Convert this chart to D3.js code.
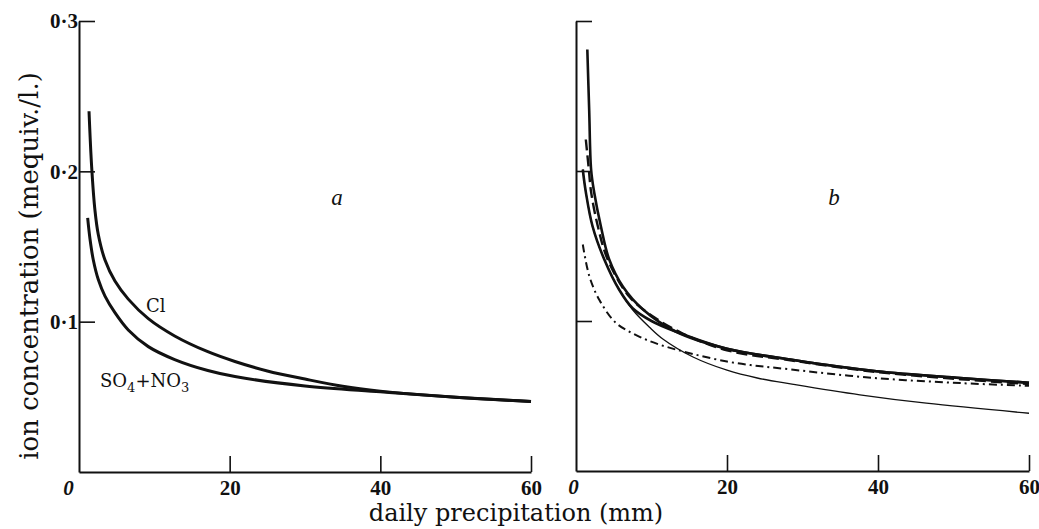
<!DOCTYPE html>
<html><head><meta charset="utf-8">
<script src="https://cdn.jsdelivr.net/npm/d3@7"></script>
<style>body{margin:0;background:#fff}svg{display:block}</style>
</head><body><svg id="c" width="1039" height="529"></svg>
<script>
// ---- data ----
const xTicks = [0, 20, 40, 60];
const yTicks = [0.1, 0.2, 0.3];
const yTickLabels = ["0·1", "0·2", "0·3"];

// panel a
const clMM   = [1.33, 1.68, 2.12, 2.56, 3.45, 4.77, 6.54, 9.2, 12.7, 17.1, 20.7, 25, 30, 35, 40, 50, 60];
const clConc = [0.240, 0.203, 0.174, 0.158, 0.141, 0.127, 0.115, 0.102, 0.0905, 0.080, 0.0735, 0.0672, 0.0618, 0.0570, 0.0538, 0.0497, 0.0469];
const so4MM   = [1.15, 1.46, 1.90, 2.56, 3.45, 4.77, 6.54, 9.2, 12.7, 17.1, 20.7, 30, 40, 50, 60];
const so4Conc = [0.169, 0.155, 0.141, 0.128, 0.117, 0.106, 0.0945, 0.0834, 0.0748, 0.0675, 0.0635, 0.0572, 0.0533, 0.0497, 0.0469];

// panel b
const bThickAMM   = [1.5, 1.75, 2.0, 2.4, 3.3, 4.4, 6.2, 8.8, 13.2, 20, 28.8, 39.8, 50.9, 60];
const bThickAConc = [0.281, 0.24, 0.201, 0.186, 0.163, 0.141, 0.123, 0.108, 0.093, 0.0815, 0.074, 0.0665, 0.062, 0.0588];
const bThickCMM   = [0.9, 1.3, 2.2, 3.75, 5.7, 7.5, 10, 13.2, 20, 28.8, 39.8, 50.9, 60];
const bThickCConc = [0.201, 0.186, 0.163, 0.141, 0.121, 0.1085, 0.100, 0.093, 0.0815, 0.074, 0.0665, 0.062, 0.0588];
const bThinMM   = [0.9, 1.3, 2.2, 3.75, 5.7, 7.5, 9.7, 11.5, 15.5, 20, 24, 28.8, 37.6, 46.4, 60];
const bThinConc = [0.201, 0.186, 0.163, 0.141, 0.121, 0.1075, 0.096, 0.088, 0.076, 0.0672, 0.0620, 0.0578, 0.0508, 0.0452, 0.0385];
const bDashMM   = [1.3, 1.7, 2.0, 2.9, 4.2, 7.1, 10.2, 14, 20, 28.8, 39.8, 50.9, 60];
const bDashConc = [0.221, 0.201, 0.186, 0.163, 0.141, 0.116, 0.103, 0.092, 0.0805, 0.0735, 0.066, 0.0612, 0.058];
const bDotDashMM   = [0.9, 1.76, 3.1, 5.3, 7.9, 11.1, 20, 28.8, 39.8, 50.9, 60];
const bDotDashConc = [0.151, 0.130, 0.114, 0.0987, 0.0908, 0.0842, 0.073, 0.0675, 0.0619, 0.0586, 0.0568];

// ---- drawing ----
const svg = d3.select("#c");
const ink = "#111";

const panels = [
  {x0: 79, x1: 531, yb: 472, yt: 21, letter: "a", lx: 337, showY: true,
   series: [
     {mm: clMM, c: clConc, w: 3, dash: null},
     {mm: so4MM, c: so4Conc, w: 3, dash: null}
   ]},
  {x0: 576, x1: 1029, yb: 471, yt: 21, letter: "b", lx: 834, showY: false,
   series: [
     {mm: bThinMM, c: bThinConc, w: 1.3, dash: null},
     {mm: bDotDashMM, c: bDotDashConc, w: 2, dash: "8,4,2,4"},
     {mm: bDashMM, c: bDashConc, w: 2.4, dash: "11,5"},
     {mm: bThickCMM, c: bThickCConc, w: 2.6, dash: null},
     {mm: bThickAMM, c: bThickAConc, w: 2.6, dash: null}
   ]}
];

panels.forEach(p => {
  const x = d3.scaleLinear().domain([0, 60]).range([p.x0, p.x1]);
  const y = d3.scaleLinear().domain([0, 0.3]).range([p.yb, p.yt]);

  // x axis
  const gx = svg.append("g").attr("transform", `translate(0,${p.yb})`)
    .call(d3.axisBottom(x).tickValues(xTicks).tickSize(-16).tickSizeOuter(0).tickPadding(8)
      .tickFormat(d => String(d)));
  gx.select(".domain").attr("stroke", ink).attr("stroke-width", 2);
  gx.selectAll(".tick line").attr("stroke", ink).attr("stroke-width", 1.6);
  gx.selectAll(".tick").filter(d => d === 0).select("line").remove();
  gx.selectAll(".tick text")
    .attr("font-family", "'Liberation Serif', 'Times New Roman', serif")
    .attr("font-weight", "bold").attr("font-size", 21).attr("fill", ink)
    .attr("dx", d => d === 0 ? (p.letter === "a" ? -11 : -3) : 0)
    .attr("font-style", d => d === 0 ? "italic" : "normal");

  // y axis
  const gy = svg.append("g").attr("transform", `translate(${p.x0},0)`)
    .call(d3.axisLeft(y).tickValues(yTicks).tickSize(-16).tickSizeOuter(0).tickPadding(1)
      .tickFormat((d, i) => p.showY ? yTickLabels[i] : ""));
  gy.select(".domain").attr("stroke", ink).attr("stroke-width", 2);
  gy.selectAll(".tick line").attr("stroke", ink).attr("stroke-width", 1.6);
  gy.selectAll(".tick text")
    .attr("font-family", "'Liberation Serif', 'Times New Roman', serif")
    .attr("font-weight", "bold").attr("font-size", 21).attr("fill", ink);

  const line = d3.line().x(d => x(d[0])).y(d => y(d[1])).curve(d3.curveCatmullRom.alpha(0.5));
  p.series.forEach(s => {
    const pts = s.mm.map((m, i) => [m, s.c[i]]);
    svg.append("path").attr("d", line(pts)).attr("fill", "none")
      .attr("stroke", ink).attr("stroke-width", s.w)
      .attr("stroke-dasharray", s.dash).attr("stroke-linecap", "butt")
      .attr("stroke-linejoin", "round");
  });

  svg.append("text").attr("x", p.lx).attr("y", 205)
    .attr("font-family", "'Liberation Serif', serif").attr("font-style", "italic")
    .attr("font-size", 23).attr("fill", ink).attr("text-anchor", "middle").text(p.letter);
});

// series labels in panel a
svg.append("text").attr("x", 146).attr("y", 312)
  .attr("font-family", "'DejaVu Serif', serif").attr("font-size", 18).attr("fill", ink).text("Cl");
const so = svg.append("text").attr("x", 100).attr("y", 387)
  .attr("font-family", "'DejaVu Serif', serif").attr("font-size", 18).attr("fill", ink);
so.append("tspan").text("SO");
so.append("tspan").attr("font-size", 13).attr("dy", 5).text("4");
so.append("tspan").attr("dy", -5).text("+NO");
so.append("tspan").attr("font-size", 13).attr("dy", 5).text("3");

// axis titles
svg.append("text").attr("x", 516).attr("y", 521).attr("text-anchor", "middle")
  .attr("font-family", "'DejaVu Serif', serif").attr("font-size", 24).attr("fill", ink)
  .text("daily precipitation (mm)");
svg.append("text").attr("transform", "translate(38,266) rotate(-90)").attr("text-anchor", "middle")
  .attr("font-family", "'DejaVu Serif', serif").attr("font-size", 26).attr("fill", ink)
  .text("ion concentration (mequiv./l.)");
</script></body></html>
